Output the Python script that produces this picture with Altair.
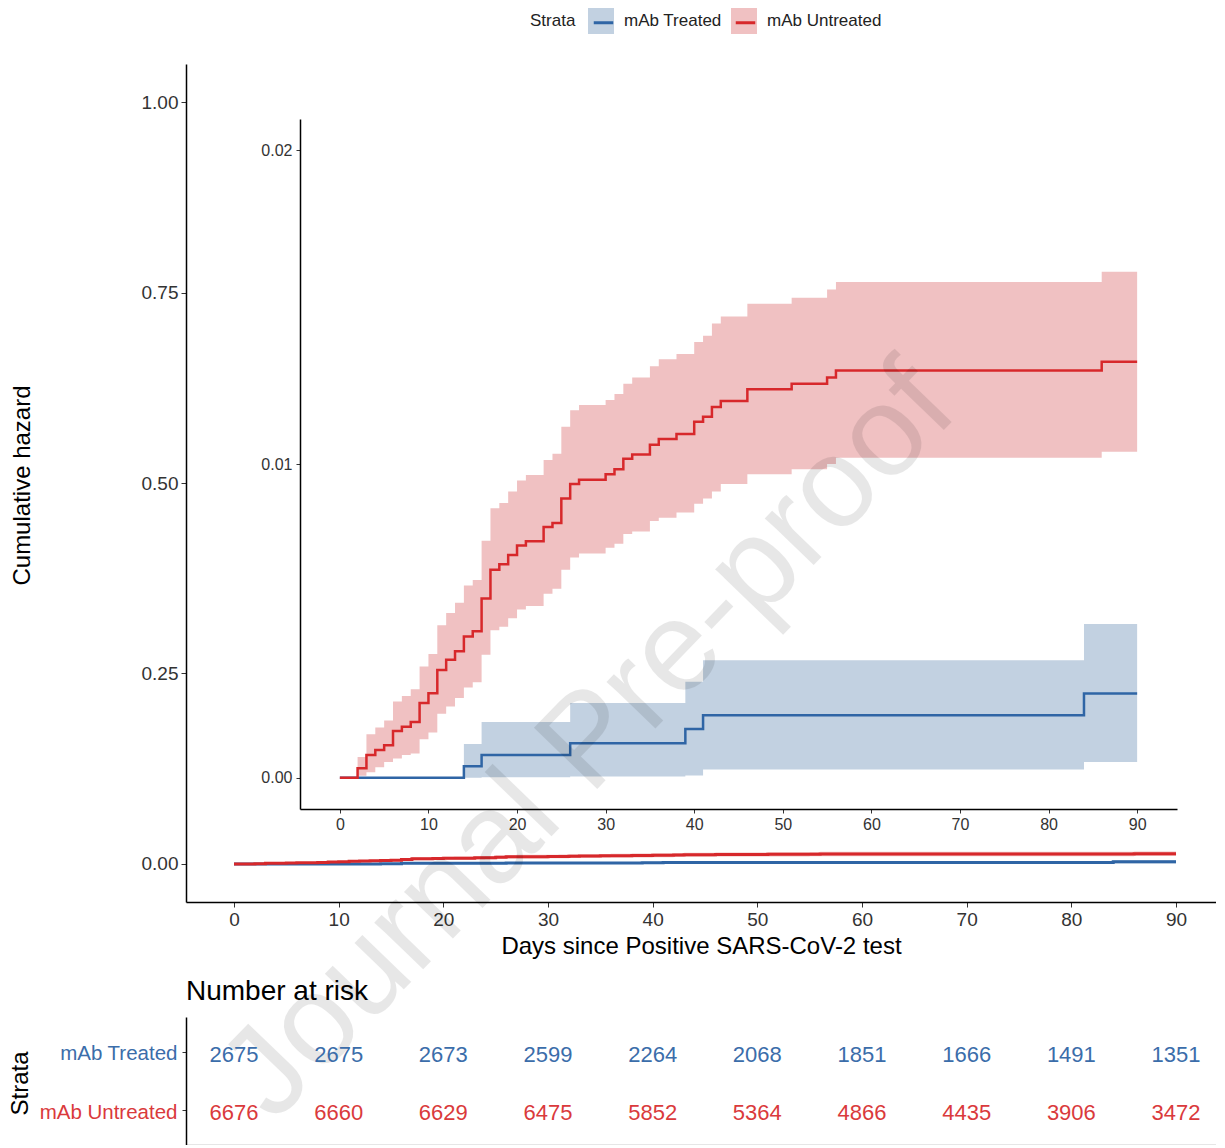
import altair as alt
import pandas as pd

STRATA = ["mAb Treated", "mAb Untreated"]
LINE_COLORS = ["#2F65A5", "#D7282B"]
BAND_COLORS = ["#C2D1E1", "#F0C1C2"]
TEXT_COLORS = ["#3B6DAA", "#DA3A3C"]

# Cumulative hazard step curves
TREATED_DAYS = [0, 14, 16, 26, 39, 41, 84, 90]
TREATED_CUMHAZ = [0, 0.00036, 0.00072, 0.0011, 0.00155, 0.00199, 0.00268, 0.00268]
TREATED_UPPER = [0, 0.00107, 0.00177, 0.00238, 0.00306, 0.00374, 0.0049, 0.0049]
TREATED_LOWER = [0, 0, 0.00001, 0.00004, 0.00007, 0.00026, 0.0005, 0.0005]

UNTREATED_DAYS = [0, 2, 3, 4, 5, 6, 7, 8, 9, 10, 11, 12, 13, 14, 15, 16, 17, 18, 19, 20,
                  21, 23, 24, 25, 26, 27, 30, 31, 32, 33, 35, 36, 38, 40, 41, 42, 43, 46, 51, 55,
                  56, 86, 90]
UNTREATED_CUMHAZ = [0, 0.0003, 0.00072, 0.00088, 0.00103, 0.00149, 0.00162, 0.00177, 0.00238, 0.00269,
                    0.00343, 0.00376, 0.00403, 0.0045, 0.00467, 0.00571, 0.00663, 0.0068, 0.0071, 0.0074,
                    0.00754, 0.00799, 0.00812, 0.0089, 0.00936, 0.0095, 0.00967, 0.00983, 0.01017, 0.0103,
                    0.01061, 0.0108, 0.01096, 0.01135, 0.01151, 0.01182, 0.01201, 0.01238, 0.01256, 0.01276,
                    0.01298, 0.01326, 0.01326]
UNTREATED_UPPER = [0, 0.00066, 0.00138, 0.0016, 0.00182, 0.00243, 0.0026, 0.00282, 0.00354, 0.00394,
                   0.00486, 0.00525, 0.00558, 0.00613, 0.0063, 0.00755, 0.00859, 0.00876, 0.00912, 0.00947,
                   0.00965, 0.01013, 0.01033, 0.01119, 0.01171, 0.01188, 0.01204, 0.01223, 0.01256, 0.01276,
                   0.01312, 0.01334, 0.01351, 0.01389, 0.01409, 0.01448, 0.0147, 0.01511, 0.0153, 0.01556,
                   0.0158, 0.01613, 0.01613]
UNTREATED_LOWER = [0, 0.00006, 0.00017, 0.00033, 0.0005, 0.00061, 0.00072, 0.00077, 0.00122, 0.00144,
                   0.00204, 0.00227, 0.00254, 0.00287, 0.00304, 0.00392, 0.0047, 0.00481, 0.00508, 0.00536,
                   0.00547, 0.00586, 0.00602, 0.00663, 0.00702, 0.00715, 0.00733, 0.00746, 0.00777, 0.00785,
                   0.00818, 0.00829, 0.00845, 0.00873, 0.0089, 0.00912, 0.00936, 0.00967, 0.00983, 0.01,
                   0.0102, 0.01039, 0.01039]

# Number at risk table
RISK_DAYS = [0, 10, 20, 30, 40, 50, 60, 70, 80, 90]
RISK_TREATED = [2675, 2675, 2673, 2599, 2264, 2068, 1851, 1666, 1491, 1351]
RISK_UNTREATED = [6676, 6660, 6629, 6475, 5852, 5364, 4866, 4435, 3906, 3472]

DAY_TICKS = [0, 10, 20, 30, 40, 50, 60, 70, 80, 90]
MAIN_Y_TICKS = [0, 0.25, 0.5, 0.75, 1.0]
INSET_Y_TICKS = [0, 0.01, 0.02]

WATERMARK_TEXT = ["Journal Pre-proof"]
WATERMARK_DAY = [34.0]
WATERMARK_VALUE = [0.16]

rows = []
for name, days, ch, lo, hi in [
    ("mAb Treated", TREATED_DAYS, TREATED_CUMHAZ, TREATED_LOWER, TREATED_UPPER),
    ("mAb Untreated", UNTREATED_DAYS, UNTREATED_CUMHAZ, UNTREATED_LOWER, UNTREATED_UPPER),
]:
    for d, v, l, h in zip(days, ch, lo, hi):
        rows.append({"strata": name, "day": d, "cumhaz": v, "lower": l, "upper": h})
curves = pd.DataFrame(rows)

risk_rows = []
for name, vals in [("mAb Treated", RISK_TREATED), ("mAb Untreated", RISK_UNTREATED)]:
    for d, n in zip(RISK_DAYS, vals):
        risk_rows.append({"strata": name, "day": d, "n": n})
risk = pd.DataFrame(risk_rows)

wm = pd.DataFrame({"day": WATERMARK_DAY, "value": WATERMARK_VALUE, "text": WATERMARK_TEXT})

FONT = "Liberation Sans"
W, H = 1030, 838
X_DOMAIN = [-4.586, 93.82]

MAIN_X = alt.Scale(domain=X_DOMAIN, nice=False, zero=False)
MAIN_Y = alt.Scale(domain=[-0.05, 1.05], nice=False, zero=False)
INSET_X = alt.Scale(domain=[-4.5, 94.5], range=[114, 991], nice=False, zero=False)
INSET_Y = alt.Scale(domain=[-0.001, 0.021], range=[745, 55], nice=False, zero=False)

main_x_axis = alt.Axis(values=DAY_TICKS, title="Days since Positive SARS-CoV-2 test", grid=False,
                       labelFontSize=19, titleFontSize=24, tickSize=5, labelPadding=3,
                       domainColor="black", domainWidth=1.5, tickColor="#333333", labelColor="#333333",
                       titleColor="black", titleY=44, titleBaseline="middle", titleFontWeight="normal")
main_y_axis = alt.Axis(values=MAIN_Y_TICKS, format=".2f", title="Cumulative hazard", grid=False,
                       labelFontSize=19, titleFontSize=24, tickSize=5, labelPadding=3,
                       domainColor="black", domainWidth=1.5, tickColor="#333333", labelColor="#333333",
                       titleColor="black", titleX=-164, titleY=421, titleBaseline="middle",
                       titleFontWeight="normal")
inset_x_axis = alt.Axis(orient="bottom", offset=-93, values=DAY_TICKS, title=None, grid=False,
                        labelFontSize=16, tickSize=4, labelPadding=3, domainColor="black",
                        domainWidth=1.5, tickColor="#333333", labelColor="#333333")
inset_y_axis = alt.Axis(orient="left", offset=-114, values=INSET_Y_TICKS, format=".2f", title=None,
                        grid=False, labelFontSize=16, tickSize=4, labelPadding=4, domainColor="black",
                        domainWidth=1.5, tickColor="#333333", labelColor="#333333")

LEG_X, LEG_Y = 344, -56
fill_enc = alt.Fill("strata:N", scale=alt.Scale(domain=STRATA, range=BAND_COLORS),
                    legend=alt.Legend(orient="none", legendX=LEG_X, legendY=LEG_Y, direction="horizontal",
                                      title="Strata", titleOrient="left", titleFontSize=17,
                                      titleFontWeight="normal", titlePadding=12, titleAnchor="middle",
                                      titleBaseline="middle", titleColor="#222222", padding=0,
                                      labelFontSize=17, labelColor="#222222", labelOffset=10,
                                      columnPadding=9, symbolType="square", symbolSize=676,
                                      symbolStrokeWidth=0, symbolOpacity=1))
stroke_enc = alt.Stroke("strata:N", scale=alt.Scale(range=LINE_COLORS),
                        legend=alt.Legend(orient="none", legendX=LEG_X + 59, legendY=LEG_Y,
                                          direction="horizontal", title=None, padding=0,
                                          labelExpr="''", labelFontSize=17, labelOffset=0,
                                          columnPadding=109, symbolType="M-0.75,0H0.75", symbolSize=676,
                                          symbolStrokeWidth=3, symbolFillColor="transparent"))

base = alt.Chart(curves)

main_band = base.mark_area(interpolate="step-after").encode(
    x=alt.X("day:Q", scale=MAIN_X, axis=main_x_axis),
    y=alt.Y("lower:Q", scale=MAIN_Y, axis=main_y_axis),
    y2="upper:Q",
    fill=fill_enc,
)
main_line = base.mark_line(interpolate="step-after", strokeWidth=3).encode(
    x=alt.X("day:Q", scale=MAIN_X, axis=main_x_axis),
    y=alt.Y("cumhaz:Q", scale=MAIN_Y, axis=main_y_axis),
    stroke=stroke_enc,
)
main_layer = alt.layer(main_band, main_line)

inset_band = base.mark_area(interpolate="step-after").encode(
    x=alt.X("day:Q", scale=INSET_X, axis=inset_x_axis),
    y=alt.Y("lower:Q", scale=INSET_Y, axis=inset_y_axis),
    y2="upper:Q",
    fill=fill_enc,
)
inset_line = base.mark_line(interpolate="step-after", strokeWidth=2.5).encode(
    x=alt.X("day:Q", scale=INSET_X, axis=inset_x_axis),
    y=alt.Y("cumhaz:Q", scale=INSET_Y, axis=inset_y_axis),
    stroke=stroke_enc,
)
inset_layer = alt.layer(inset_band, inset_line)

watermark = alt.Chart(wm).mark_text(angle=314, fontSize=128, font=FONT, color="black", opacity=0.09,
                                    baseline="middle", align="center").encode(
    x=alt.X("day:Q", scale=MAIN_X, axis=None),
    y=alt.Y("value:Q", scale=MAIN_Y, axis=None),
    text="text:N",
)

top = alt.layer(main_layer, inset_layer, watermark).resolve_scale(
    x="independent", y="independent").properties(width=W, height=H)

label_color = {"condition": {"test": "datum.value === 'mAb Treated'", "value": TEXT_COLORS[0]},
               "value": TEXT_COLORS[1]}

table = alt.Chart(risk).mark_text(fontSize=22, font=FONT, dy=3).encode(
    x=alt.X("day:Q", scale=alt.Scale(domain=X_DOMAIN, nice=False, zero=False),
            axis=alt.Axis(title=None, labels=False, ticks=False, grid=False, domainColor="#9A9A9A",
                          domainWidth=1.5)),
    y=alt.Y("strata:N", sort=STRATA, scale=alt.Scale(type="point", padding=0.6),
            axis=alt.Axis(title="Strata", labelFontSize=20.5, labelColor=label_color, tickSize=4,
                          labelPadding=5, labelOffset=2, domainColor="black", domainWidth=1.5,
                          tickColor="#333333", titleFontSize=24, titleColor="black",
                          titleFontWeight="normal", titleX=-166, titleY=66, titleBaseline="middle",
                          grid=False)),
    text="n:Q",
    color=alt.Color("strata:N", scale=alt.Scale(domain=STRATA, range=TEXT_COLORS), legend=None),
).properties(width=W, height=128,
             title=alt.TitleParams("Number at risk", anchor="start", frame="group", fontSize=28,
                                   fontWeight="normal", color="black", offset=11))

chart = alt.vconcat(top, table, spacing=115, bounds="flush").resolve_scale(
    color="independent", fill="independent", stroke="independent"
).configure(
    font=FONT, padding={"left": 0, "top": 0, "right": 0, "bottom": 0}
).configure_view(stroke=None)

chart.save("out.html", embed_options={"renderer": "svg", "actions": False})
